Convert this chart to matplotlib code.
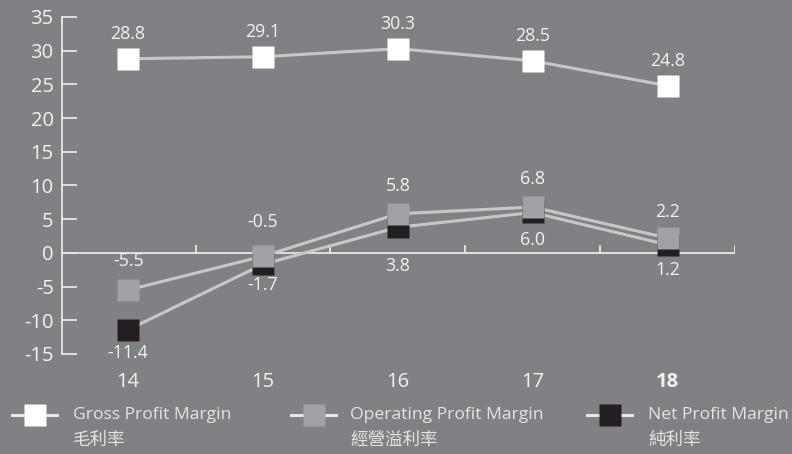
import matplotlib
matplotlib.use("Agg")
import matplotlib.pyplot as plt
from matplotlib.lines import Line2D

plt.rcParams['font.family'] = ['Open Sans', 'Noto Sans CJK TC', 'DejaVu Sans']

years = ["14", "15", "16", "17", "18"]
gross = [28.8, 29.1, 30.3, 28.5, 24.8]
operating = [-5.5, -0.5, 5.8, 6.8, 2.2]
net = [-11.4, -1.7, 3.8, 6.0, 1.2]
names_en = ["Gross Profit Margin", "Operating Profit Margin", "Net Profit Margin"]
names_zh = ["毛利率", "經營溢利率", "純利率"]
yticks = [-15, -10, -5, 0, 5, 10, 15, 20, 25, 30, 35]

BG = "#808185"
LINE = "#c6c7c9"
TXT = "#f2f2f2"
AX = "#e8e8e8"
colors = ["#ffffff", "#a0a1a4", "#231f20"]

fig = plt.figure(figsize=(7.92, 4.54), dpi=100, facecolor=BG)
ax = fig.add_axes([0.0783, 0.2203, 0.8497, 0.7423])
ax.set_facecolor(BG)
x = list(range(len(years)))

ax.set_xlim(-0.49, 4.5)
ax.set_ylim(-15, 35)

series = [gross, net, operating]
cols = [colors[0], colors[2], colors[1]]
for s, c in zip(series, cols):
    ax.plot(x, s, color=LINE, lw=2.2, zorder=2)
for s, c in zip(series, cols):
    ax.plot(x, s, ls='none', marker='s', ms=15.5, mfc=c, mec='none', zorder=3)

# zero line and boundary ticks
ax.axhline(0, color=AX, lw=1.3, zorder=1)
for b in [0.5, 1.5, 2.5, 3.5, 4.5]:
    ax.plot([b, b], [0, 1.05], color=AX, lw=1.3, zorder=1)

# labels
LFS = 12.8
g_off = [18, 18, 18, 18, 18]
o_off = [21, 25, 20, 20, 19]
n_off = [-17, -15, -28, -20, -18]
for i in x:
    ax.annotate(f"{gross[i]:.1f}", (i, gross[i]), xytext=(0, g_off[i]), textcoords='offset points',
                ha='center', va='center', color=TXT, fontsize=LFS)
    ax.annotate(f"{operating[i]:.1f}", (i, operating[i]), xytext=(0, o_off[i]), textcoords='offset points',
                ha='center', va='center', color=TXT, fontsize=LFS)
    ax.annotate(f"{net[i]:.1f}", (i, net[i]), xytext=(0, n_off[i]), textcoords='offset points',
                ha='center', va='center', color=TXT, fontsize=LFS)

for sp in ['top', 'right', 'bottom']:
    ax.spines[sp].set_visible(False)
ax.spines['left'].set_color(AX)
ax.spines['left'].set_linewidth(1.3)

ax.set_yticks(yticks)
ax.set_yticklabels([str(v) for v in yticks])
ax.tick_params(axis='y', direction='in', length=11, width=1.3, color=AX, labelcolor=TXT,
               labelsize=14.5, pad=6)
ax.set_xticks(x)
ax.set_xticklabels(years)
ax.tick_params(axis='x', length=0, labelcolor=TXT, labelsize=14.5, pad=13)
ax.get_xticklabels()[-1].set_fontweight('bold')

# legend
W, H = 792, 454
lx = [12, 291, 587]
tx = [73, 350, 648]
for i in range(3):
    x0 = lx[i]
    y0 = 1 - 415 / H
    fig.add_artist(Line2D([x0 / W, (x0 + 45) / W], [y0, y0], color=AX, lw=2.2,
                          transform=fig.transFigure))
    fig.add_artist(Line2D([(x0 + 22.5) / W], [y0], marker='s', ms=16.5, mfc=colors[i], mec='none',
                          ls='none', transform=fig.transFigure))
    fig.text(tx[i] / W, y0, names_en[i], color="#e4e4e4", fontsize=12.6, ha='left', va='center')
    fig.text(tx[i] / W, 1 - 440 / H, names_zh[i], color="#e4e4e4", fontsize=12.6, ha='left',
             va='center', family=['Noto Sans CJK TC', 'DejaVu Sans'])

fig.savefig("out.png", dpi=100, facecolor=BG)
